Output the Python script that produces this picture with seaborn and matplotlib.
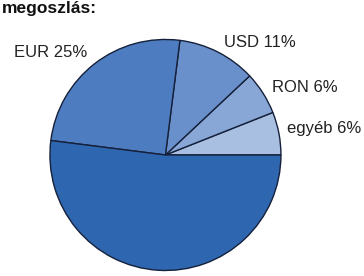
import matplotlib
matplotlib.use("Agg")
import matplotlib.pyplot as plt
import seaborn as sns

# currency split, counter-clockwise from 3 o'clock
currencies = ["egyéb", "RON", "USD", "EUR", "HUF"]
shares = [6, 6, 11, 25, 52]
shown = [True, True, True, True, False]
colors = ["#A9BFE2", "#89A7D6", "#6A90CB", "#4D7DC0", "#2F66B0"]

# label anchors (left edge, vertical centre) in pie units
label_pos = [(1.05, 0.225), (0.92, 0.58), (0.51, 0.97), (-1.31, 0.89)]

sns.set_style("white")
plt.rcParams["font.family"] = ["Liberation Sans", "DejaVu Sans"]

fig = plt.figure(figsize=(3.64, 2.76), dpi=100)
ax = fig.add_axes([0.137, 0.02, 0.635, 0.837])
ax.pie(shares, colors=colors, startangle=0, counterclock=True,
       wedgeprops=dict(edgecolor="#15203a", linewidth=1.0))
ax.set_xlim(-1, 1)
ax.set_ylim(-1, 1)
ax.set_aspect("equal")
ax.axis("off")

for name, val, show, (x, y) in zip(currencies, shares, shown, label_pos + [(0, 0)]):
    if show:
        ax.text(x, y, f"{name} {val}%", ha="left", va="center",
                fontsize=12, color="#222222", clip_on=False)

fig.text(2 / 364, 1 - 8 / 276, "megoszlás:", ha="left", va="center",
         fontsize=12.5, fontweight="bold", color="#111111")

fig.savefig("out.png", dpi=100)
